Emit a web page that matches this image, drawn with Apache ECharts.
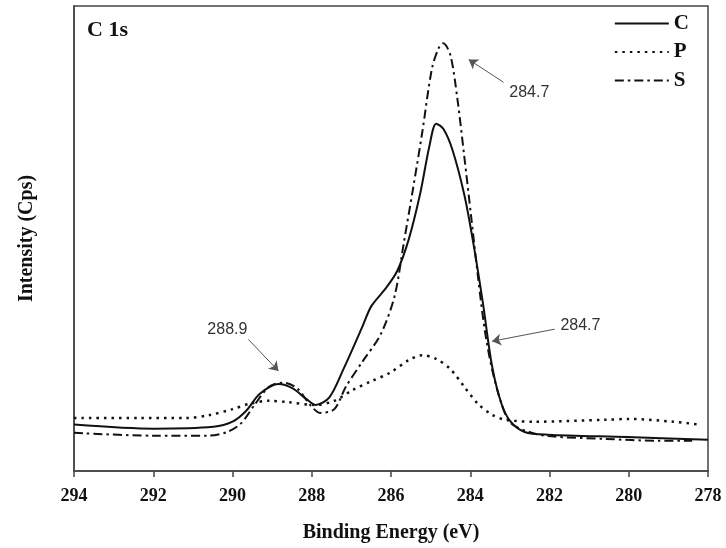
<!DOCTYPE html>
<html>
<head>
<meta charset="utf-8">
<script src="https://cdn.jsdelivr.net/npm/echarts@6/dist/echarts.min.js"></script>
<style>
  html, body { margin: 0; padding: 0; background: #fff; }
  #chart { width: 726px; height: 548px; }
</style>
</head>
<body>
<div id="chart"></div>
<script>
// binding energy (eV) / intensity (arb.)
const cEnergy = [294, 291.97, 290.48, 290.0, 289.66, 289.31, 288.84, 288.49, 288.14, 287.9, 287.55, 287.2, 286.73, 286.5, 286.15, 285.85, 285.56, 285.27, 285.03, 284.86, 284.68, 284.45, 284.15, 283.92, 283.68, 283.45, 283.21, 282.98, 282.63, 282.04, 280.05, 278.0];
const cIntensity = [10.0, 9.1, 9.5, 10.6, 12.9, 16.6, 18.7, 17.8, 15.5, 14.2, 15.9, 21.9, 30.9, 35.4, 39.1, 42.9, 49.6, 59.4, 69.9, 74.7, 73.6, 69.1, 59.4, 48.9, 36.1, 22.6, 14.4, 10.6, 8.4, 7.8, 7.3, 6.7];

const pEnergy = [294, 292.36, 291.19, 290.6, 290.0, 289.55, 289.08, 288.6, 287.9, 287.43, 286.97, 286.5, 286.03, 285.56, 285.21, 284.86, 284.5, 284.15, 283.8, 283.45, 283.1, 282.39, 280.6, 280.0, 278.88, 278.24];
const pIntensity = [11.4, 11.4, 11.4, 12.0, 13.3, 14.5, 15.1, 14.8, 14.2, 15.1, 17.4, 19.3, 21.1, 23.8, 24.9, 24.1, 21.9, 18.1, 14.4, 12.1, 11.0, 10.6, 11.0, 11.2, 10.6, 10.0];

const sEnergy = [294, 292.0, 290.6, 290.13, 289.78, 289.43, 289.08, 288.72, 288.37, 288.02, 287.79, 287.43, 287.14, 286.73, 286.26, 285.91, 285.68, 285.44, 285.21, 284.97, 284.8, 284.68, 284.5, 284.33, 284.15, 283.98, 283.8, 283.63, 283.45, 283.21, 282.98, 282.51, 282.04, 280.6, 279.23, 278.4];
const sIntensity = [8.2, 7.6, 7.6, 8.4, 10.3, 14.4, 18.1, 19.0, 17.8, 14.0, 12.5, 13.3, 18.1, 23.4, 29.4, 37.6, 48.9, 60.9, 72.9, 86.4, 90.9, 92.0, 89.4, 80.4, 67.6, 54.9, 41.4, 30.1, 21.9, 14.4, 10.3, 8.4, 7.5, 6.9, 6.5, 6.5];

const xTicks = [294, 292, 290, 288, 286, 284, 282, 280, 278];

// peak annotations: label, text centre, arrow tail, arrow head
const annotLabels = ['288.9', '284.7', '284.7'];
const annotText = [[290.13, 30.5], [282.51, 81.3], [281.22, 31.3]];
const arrowFrom = [[289.6, 28.3], [283.16, 83.6], [281.87, 30.5]];
const arrowTo = [[288.84, 21.5], [284.04, 88.5], [283.45, 27.9]];

const zip = (xs, ys) => xs.map((x, i) => [x, ys[i]]);

const serif = '"Liberation Serif", "Times New Roman", serif';
const sans = '"Liberation Sans", Arial, sans-serif';

const chart = echarts.init(document.getElementById('chart'));

const option = {
    animation: false,
    backgroundColor: '#fff',
    grid: {
        left: 74, right: 18, top: 6, bottom: 75,
        show: true, borderColor: '#444', borderWidth: 1.5
    },
    title: {
        text: 'C 1s',
        left: 82, top: 14,
        textStyle: { fontFamily: serif, fontWeight: 'bold', fontSize: 22, color: '#111' }
    },
    legend: {
        data: ['C', 'P', 'S'],
        orient: 'vertical',
        right: 32, top: 8,
        itemWidth: 54, itemHeight: 14, itemGap: 7.5,
        // hide the marker dot, keep the line sample
        itemStyle: { color: 'rgba(0,0,0,0)', borderWidth: 0 },
        textStyle: { fontFamily: serif, fontWeight: 'bold', fontSize: 21, color: '#111' }
    },
    xAxis: {
        type: 'value',
        min: 278, max: 294, interval: 2,
        inverse: true,
        name: 'Binding Energy (eV)',
        nameLocation: 'middle',
        nameGap: 52,
        nameTextStyle: { fontFamily: serif, fontWeight: 'bold', fontSize: 20, color: '#111' },
        axisLine: { lineStyle: { color: '#444', width: 1.5 } },
        axisTick: { length: 6, lineStyle: { color: '#444', width: 1.5 } },
        axisLabel: {
            margin: 16,
            fontFamily: serif, fontWeight: 'bold', fontSize: 18, color: '#111',
            formatter: v => xTicks.includes(v) ? String(v) : ''
        },
        splitLine: { show: false }
    },
    yAxis: {
        type: 'value',
        min: 0, max: 100,
        name: 'Intensity (Cps)',
        nameLocation: 'middle',
        nameGap: 37,
        nameTextStyle: { fontFamily: serif, fontWeight: 'bold', fontSize: 20, color: '#111' },
        axisLine: { show: true, lineStyle: { color: '#444', width: 1.5 } },
        axisTick: { show: false },
        axisLabel: { show: false },
        splitLine: { show: false }
    },
    series: [
        {
            name: 'C', type: 'line', data: zip(cEnergy, cIntensity),
            smooth: 0.3, symbol: 'none',
            lineStyle: { color: '#111', width: 2 },
            itemStyle: { color: '#111' },
            markLine: {
                silent: true,
                symbol: ['none', 'arrow'],
                symbolSize: 9,
                label: { show: false },
                lineStyle: { color: '#555', width: 1, type: 'solid' },
                data: arrowFrom.map((f, i) => [{ coord: f }, { coord: arrowTo[i] }])
            },
            markPoint: {
                silent: true,
                symbol: 'circle', symbolSize: 0,
                itemStyle: { color: 'rgba(0,0,0,0)' },
                label: {
                    show: true, position: 'inside', formatter: '{b}',
                    fontFamily: sans, fontSize: 16, color: '#333'
                },
                data: annotLabels.map((t, i) => ({ name: t, coord: annotText[i] }))
            }
        },
        {
            name: 'P', type: 'line', data: zip(pEnergy, pIntensity),
            smooth: 0.3, symbol: 'none',
            lineStyle: { color: '#111', width: 2.5, type: [2.5, 5] },
            itemStyle: { color: '#111' }
        },
        {
            name: 'S', type: 'line', data: zip(sEnergy, sIntensity),
            smooth: 0.3, symbol: 'none',
            lineStyle: { color: '#111', width: 2, type: [9, 4, 2.5, 4] },
            itemStyle: { color: '#111' }
        }
    ]
};

chart.setOption(option);
</script>
</body>
</html>
